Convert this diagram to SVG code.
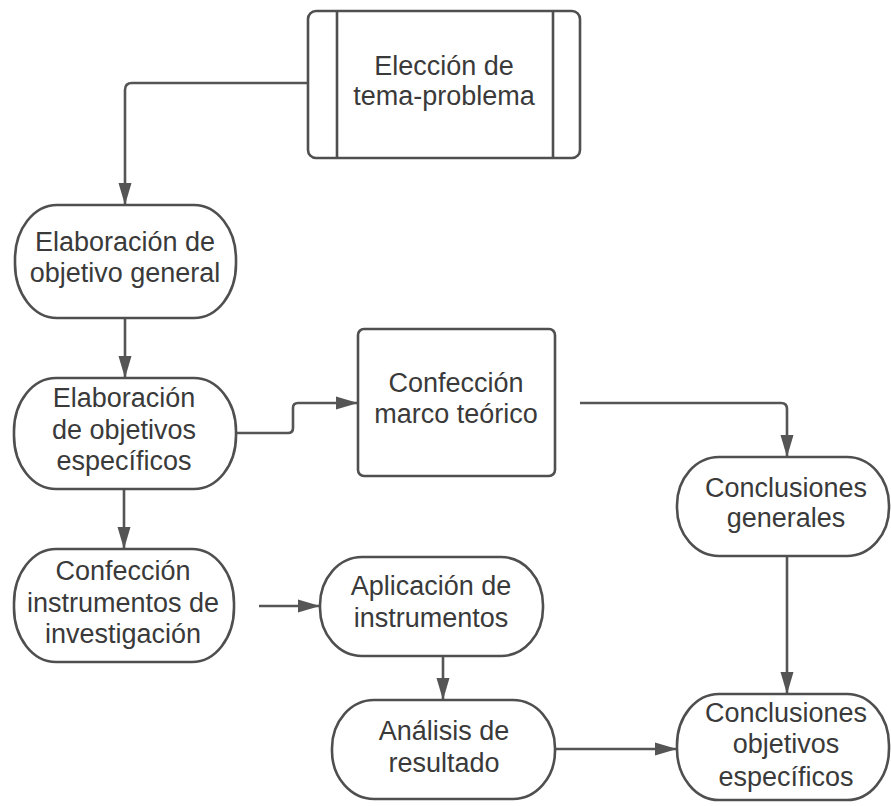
<svg xmlns="http://www.w3.org/2000/svg" width="891" height="806" viewBox="0 0 891 806">
<style>
.node{fill:#ffffff;stroke:#4f4f4f;stroke-width:2.6}
.conn{fill:none;stroke:#555555;stroke-width:2.6}
text{font-family:"Liberation Sans",Arial,sans-serif;font-size:27px;fill:#3a3a3a;text-anchor:middle}
</style>
<defs>
<marker id="arr" markerUnits="userSpaceOnUse" markerWidth="24" markerHeight="14" refX="22" refY="7" orient="auto">
<path d="M0,0.5 L22,7 L0,13.5 z" fill="#555555"/>
</marker>
</defs>
<rect width="891" height="806" fill="#ffffff"/>
<g id="connectors">
<path class="conn" d="M308,83 H132 Q125,83 125,90 V205" marker-end="url(#arr)"/>
<path class="conn" d="M125,318 V378" marker-end="url(#arr)"/>
<path class="conn" d="M124,489 V549" marker-end="url(#arr)"/>
<path class="conn" d="M236,433 H288 Q293,433 293,428 V408 Q293,403 298,403 H358" marker-end="url(#arr)"/>
<path class="conn" d="M580,403 H781 Q787,403 787,409 V457" marker-end="url(#arr)"/>
<path class="conn" d="M259,606 H320" marker-end="url(#arr)"/>
<path class="conn" d="M443,656 V700" marker-end="url(#arr)"/>
<path class="conn" d="M787,556 V694" marker-end="url(#arr)"/>
<path class="conn" d="M555,749 H677" marker-end="url(#arr)"/>
</g>
<g id="n-eleccion">
<rect class="node" x="308" y="11" width="272" height="147" rx="8"/>
<line class="node" x1="337" y1="11" x2="337" y2="158"/>
<line class="node" x1="553" y1="11" x2="553" y2="158"/>
<text x="444" y="75">Elección de</text>
<text x="444" y="105">tema-problema</text>
</g>
<g id="n-objgeneral">
<rect class="node" x="15" y="205" width="221" height="113" rx="42" ry="54"/>
<text x="125" y="251">Elaboración de</text>
<text x="125" y="282">objetivo general</text>
</g>
<g id="n-objespecificos">
<rect class="node" x="14" y="378" width="222" height="111" rx="42" ry="53"/>
<text x="124" y="407">Elaboración</text>
<text x="124" y="439">de objetivos</text>
<text x="124" y="470">específicos</text>
</g>
<g id="n-marco">
<rect class="node" x="358" y="329" width="197" height="147" rx="6"/>
<text x="456" y="392">Confección</text>
<text x="456" y="423">marco teórico</text>
</g>
<g id="n-instrumentos">
<rect class="node" x="14" y="549" width="220" height="113" rx="42" ry="54"/>
<text x="123" y="580">Confección</text>
<text x="123" y="612">instrumentos de</text>
<text x="123" y="643">investigación</text>
</g>
<g id="n-aplicacion">
<rect class="node" x="320" y="557" width="223" height="99" rx="42" ry="48"/>
<text x="431" y="595">Aplicación de</text>
<text x="431" y="627">instrumentos</text>
</g>
<g id="n-analisis">
<rect class="node" x="332" y="700" width="223" height="99" rx="42" ry="48"/>
<text x="444" y="740">Análisis de</text>
<text x="444" y="772">resultado</text>
</g>
<g id="n-concgenerales">
<rect class="node" x="677" y="457" width="212" height="99" rx="42" ry="48"/>
<text x="786" y="497">Conclusiones</text>
<text x="786" y="527">generales</text>
</g>
<g id="n-concobjetivos">
<rect class="node" x="677" y="694" width="212" height="106" rx="42" ry="51"/>
<text x="786" y="722">Conclusiones</text>
<text x="786" y="753">objetivos</text>
<text x="786" y="786">específicos</text>
</g>
</svg>
